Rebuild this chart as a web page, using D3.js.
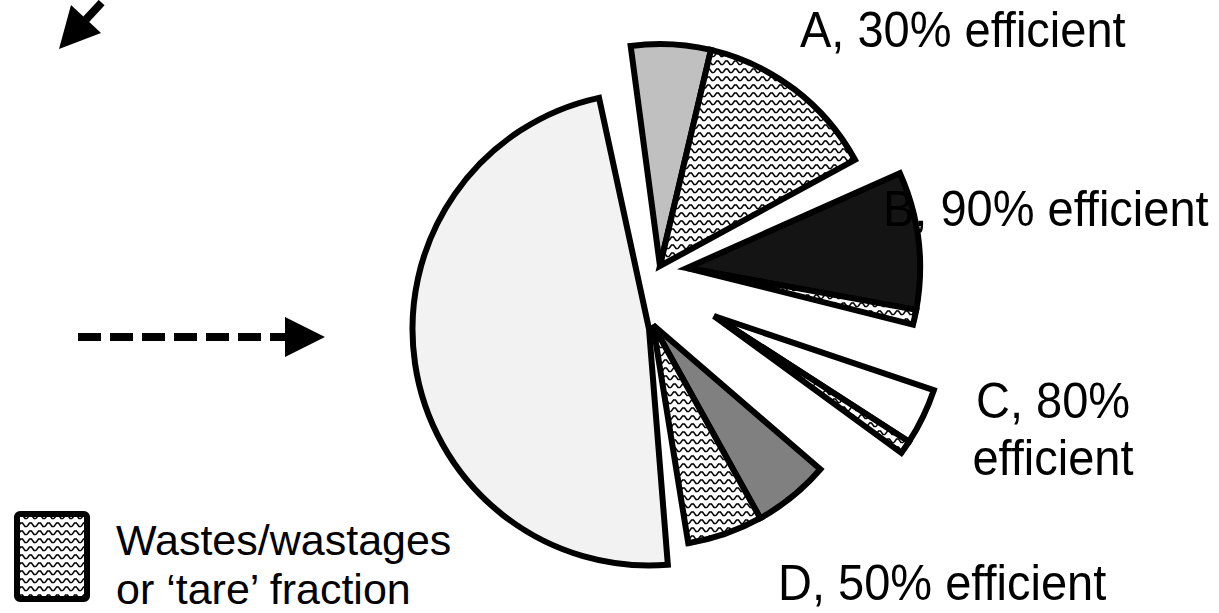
<!DOCTYPE html>
<html>
<head>
<meta charset="utf-8">
<script src="https://cdn.jsdelivr.net/npm/d3@7"></script>
<style>
  html, body { margin: 0; background: #ffffff; }
  svg { display: block; }
  text { font-family: "Liberation Sans", Arial, Helvetica, sans-serif; font-size: 47px; fill: #000; }
  text.legend-text { font-size: 43px; }
</style>
</head>
<body>
<svg id="chart" width="1219" height="613"></svg>
<script>
// ---- data: share of the whole stream (percent) ----
const groups = ["A", "B", "C", "D", "Other"];
const usefulShare = [6.2, 10.2, 4.2, 6.0, 51.2];
const wasteShare = [14.3, 1.1, 1.0, 5.9, 0];
const groupLabels = [["A, 30% efficient"], ["B, 90% efficient"], ["C, 80%", "efficient"], ["D, 50% efficient"], []];
const legendLabel = ["Wastes/wastages", "or \u2018tare\u2019 fraction"];

// ---- styling and layout ----
const usefulFill = ["#c0c0c0", "#141414", "#ffffff", "#808080", "#f2f2f2"];
const center = [660, 300];
const groupOffset = [[0, -34], [27, -32], [54, 16], [-7, 25], [-11, 29]];
const groupRadius = [222, 233, 232, 221, 236.5];
const labelPos = [
  { x: 800, y: 47, anchor: "start", lineGap: 0 },
  { x: 883, y: 226, anchor: "start", lineGap: 0 },
  { x: 1053, y: 418, anchor: "middle", lineGap: 57 },
  { x: 778, y: 600, anchor: "start", lineGap: 0 },
  null
];
const textStretch = 1.07;
const deg = Math.PI / 180;
const gap = 4.6 * deg;
const firstStart = -7.6 * deg;

const svg = d3.select("#chart");

// wavy hatch used for the waste fraction
const defs = svg.append("defs");
const wave = defs.append("pattern")
  .attr("id", "wave")
  .attr("patternUnits", "userSpaceOnUse")
  .attr("width", 9).attr("height", 8);
wave.append("rect").attr("width", 9).attr("height", 8).attr("fill", "#fff");
wave.append("path")
  .attr("d", "M0,6.5 L2.5,3 L4.5,3 L7,6.5 L9,6.5")
  .attr("fill", "none").attr("stroke", "#000").attr("stroke-width", 1.5);

// group-level pie with gaps between the exploded groups
const groupPie = d3.pie()
  .sort(null)
  .value((d, i) => usefulShare[i] + wasteShare[i])
  .startAngle(firstStart - gap / 2)
  .endAngle(firstStart - gap / 2 + 2 * Math.PI)
  .padAngle(gap);

const groupArcs = groupPie(groups);

groupArcs.forEach((g, i) => {
  const slicePie = d3.pie()
    .sort(null)
    .startAngle(g.startAngle + g.padAngle / 2)
    .endAngle(g.endAngle - g.padAngle / 2);
  const parts = slicePie([usefulShare[i], wasteShare[i]])
    .map((d, j) => Object.assign(d, { kind: j === 0 ? "useful" : "waste" }))
    .filter(d => d.value > 0);
  const arc = d3.arc().innerRadius(0).outerRadius(groupRadius[i]);

  svg.append("g")
    .attr("class", "group group-" + groups[i])
    .attr("transform", `translate(${center[0] + groupOffset[i][0]},${center[1] + groupOffset[i][1]})`)
    .selectAll("path")
    .data(parts)
    .join("path")
    .attr("d", arc)
    .attr("fill", d => d.kind === "useful" ? usefulFill[i] : "url(#wave)")
    .attr("stroke", "#000")
    .attr("stroke-width", 6)
    .attr("stroke-linejoin", "miter");
});

// multi-line text block, optionally stretched vertically
function addTextBlock(x, y, anchor, lines, lineGap, stretch, cls) {
  const t = svg.append("text")
    .attr("class", cls || null)
    .attr("transform", `translate(${x},${y}) scale(1,${stretch})`)
    .attr("text-anchor", anchor);
  lines.forEach((str, k) => {
    t.append("tspan")
      .attr("x", 0)
      .attr("y", k * lineGap / stretch)
      .text(str);
  });
}

// group labels
groupLabels.forEach((lines, i) => {
  const p = labelPos[i];
  if (!p) return;
  addTextBlock(p.x, p.y, p.anchor, lines, p.lineGap, textStretch);
});

// legend
svg.append("rect")
  .attr("x", 17).attr("y", 514)
  .attr("width", 70).attr("height", 85)
  .attr("rx", 3)
  .attr("fill", "url(#wave)")
  .attr("stroke", "#000")
  .attr("stroke-width", 6);
addTextBlock(116, 555, "start", legendLabel, 49, 1, "legend-text");

// incoming flow arrows
svg.append("line")
  .attr("x1", 78).attr("y1", 337).attr("x2", 290).attr("y2", 337)
  .attr("stroke", "#000").attr("stroke-width", 8)
  .attr("stroke-dasharray", "23 9");
svg.append("path")
  .attr("d", "M285,317 L325,337 L285,357 Z")
  .attr("fill", "#000");

svg.append("line")
  .attr("x1", 86).attr("y1", 19.5).attr("x2", 130).attr("y2", -28)
  .attr("stroke", "#000").attr("stroke-width", 8)
  .attr("stroke-dasharray", "23 9");
svg.append("path")
  .attr("d", "M59,49 L71,5 L101,33 Z")
  .attr("fill", "#000");
</script>
</body>
</html>
